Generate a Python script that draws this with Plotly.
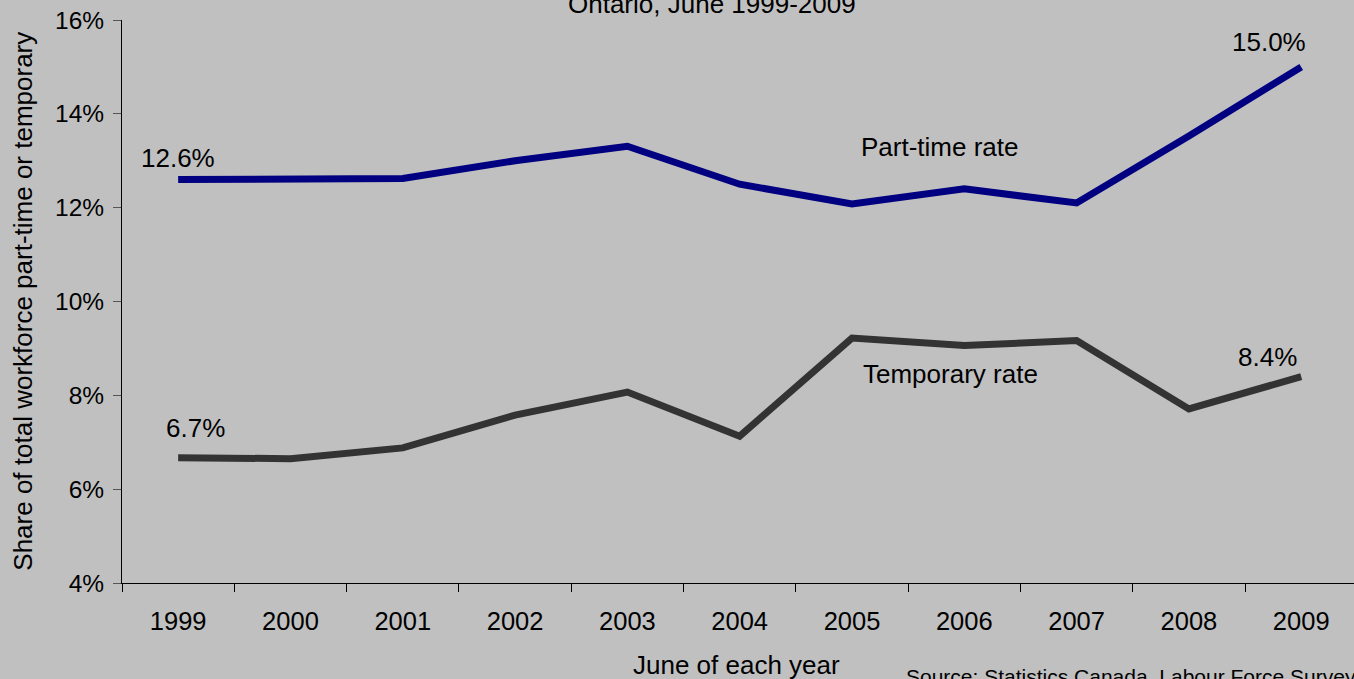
import plotly.graph_objects as go

years = ["1999", "2000", "2001", "2002", "2003", "2004", "2005", "2006", "2007", "2008", "2009"]
part_time = [12.6, 12.6, 12.62, 13.0, 13.31, 12.5, 12.08, 12.4, 12.1, 13.53, 15.0]
temporary = [6.67, 6.65, 6.88, 7.58, 8.07, 7.13, 9.22, 9.06, 9.17, 7.71, 8.4]
y_ticks = [4, 6, 8, 10, 12, 14, 16]
y_tick_labels = ["4%", "6%", "8%", "10%", "12%", "14%", "16%"]

FONT = "Liberation Sans, Arial, sans-serif"
BG = "#c0c0c0"

fig = go.Figure()
fig.add_trace(go.Scatter(x=years, y=part_time, mode="lines",
                         line=dict(color="#000080", width=7), showlegend=False))
fig.add_trace(go.Scatter(x=years, y=temporary, mode="lines",
                         line=dict(color="#333333", width=7), showlegend=False))

annots = [
    dict(x=0, y=13.06, text="12.6%"),
    dict(x=0.15, y=7.3, text="6.7%"),
    dict(x=9.71, y=15.53, text="15.0%"),
    dict(x=9.7, y=8.81, text="8.4%"),
    dict(x=6.78, y=13.29, text="Part-time rate"),
    dict(x=6.88, y=8.45, text="Temporary rate"),
]
for a in annots:
    fig.add_annotation(x=a["x"], y=a["y"], xref="x", yref="y", text=a["text"],
                       showarrow=False, xanchor="center", yanchor="middle",
                       font=dict(family=FONT, size=26, color="#000000"))

fig.add_annotation(x=0.479, y=1.028, xref="paper", yref="paper",
                   text="Ontario, June 1999-2009", showarrow=False,
                   xanchor="center", yanchor="middle",
                   font=dict(family=FONT, size=26, color="#000000"))
fig.add_annotation(x=0.499, y=-0.145, xref="paper", yref="paper",
                   text="June of each year", showarrow=False,
                   xanchor="center", yanchor="middle",
                   font=dict(family=FONT, size=26, color="#000000"))
fig.add_annotation(x=-0.081, y=0.5, xref="paper", yref="paper",
                   text="Share of total workforce part-time or temporary", showarrow=False,
                   textangle=-90, xanchor="center", yanchor="middle",
                   font=dict(family=FONT, size=26, color="#000000"))
fig.add_annotation(x=(904 - 122) / 1232, y=-0.166, xref="paper", yref="paper",
                   text="Source: Statistics Canada, Labour Force Survey", showarrow=False,
                   xanchor="left", yanchor="middle",
                   font=dict(family=FONT, size=21, color="#000000"))

fig.update_layout(
    width=1354, height=679,
    margin=dict(l=122, r=0, t=20, b=96),
    paper_bgcolor=BG, plot_bgcolor=BG,
    font=dict(family=FONT, size=25, color="#000000"),
    xaxis=dict(type="category", range=[-0.5, 10.47], showgrid=False,
               showline=True, linecolor="#000000", linewidth=1,
               ticks="outside", tickson="boundaries", ticklen=8, tickcolor="#000000",
               ticklabelstandoff=15, tickfont=dict(size=25.5)),
    yaxis=dict(range=[4, 16], tickvals=y_ticks, ticktext=y_tick_labels,
               showgrid=False, zeroline=False, showline=True, linecolor="#000000",
               linewidth=1, ticks="outside", ticklen=8, tickcolor="#555555",
               ticklabelstandoff=4, tickfont=dict(size=24.5)),
)

fig.write_html("out.html", config={"displayModeBar": False},
               post_script="document.body.style.margin='0';document.body.style.overflow='hidden';document.body.style.background='#c0c0c0';")
